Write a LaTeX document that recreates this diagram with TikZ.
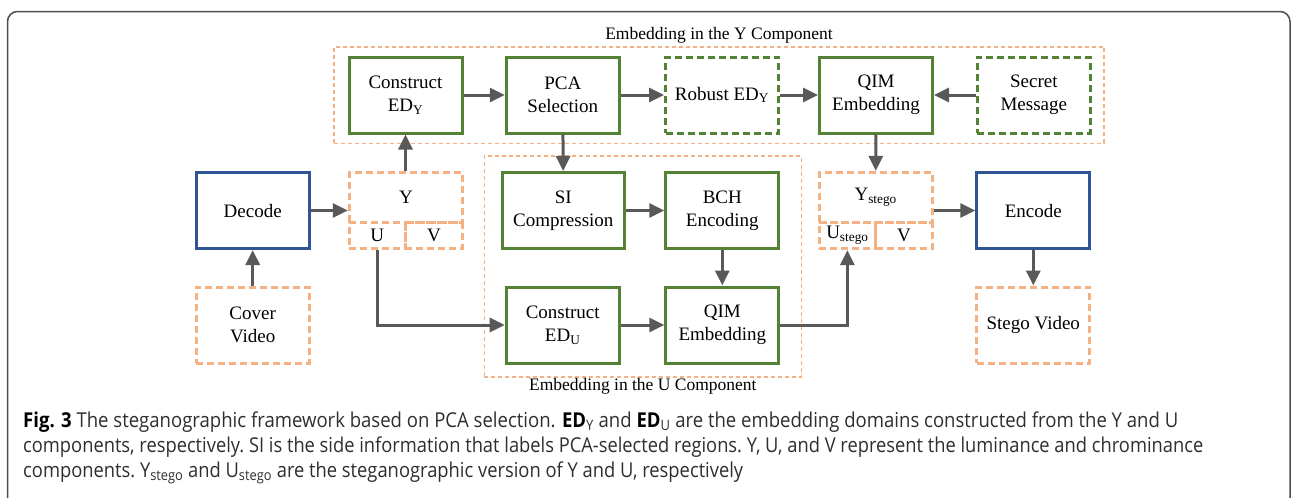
\documentclass[tikz,border=0pt]{standalone}
\usepackage{fontspec}
\setmainfont{Liberation Serif}
\newfontfamily\capfont{Open Sans}
\usetikzlibrary{arrows.meta}
\definecolor{boxgreen}{HTML}{548235}
\definecolor{boxblue}{HTML}{2F5597}
\definecolor{dashorange}{HTML}{F4B183}
\definecolor{arrowgray}{HTML}{595959}
\definecolor{framegray}{HTML}{4D4D4D}
\definecolor{captext}{HTML}{2E2E2E}
\newcommand{\capfit}[2]{\resizebox{#1}{\height}{#2}}
\tikzset{
  x=1pt, y=-1pt,
  every node/.style={font=\fontsize{19}{23}\selectfont, align=center, inner sep=0pt},
  blk/.style={draw, line width=3pt, minimum width=113pt, minimum height=76pt},
  procbox/.style={blk, draw=boxgreen},
  optbox/.style={blk, draw=boxgreen, dash pattern=on 7pt off 4pt},
  codecbox/.style={blk, draw=boxblue},
  databox/.style={blk, draw=dashorange, dash pattern=on 7pt off 4pt},
  chanbox/.style={draw=dashorange, line width=3pt, dash pattern=on 7pt off 4pt},
  region/.style={draw=dashorange, line width=1.6pt, dash pattern=on 4pt off 3pt},
  flow/.style={draw=arrowgray, line width=3pt, -{Triangle[length=15pt,width=14pt]}},
  regiontitle/.style={font=\fontsize{17.5}{21}\selectfont},
  capline/.style={anchor=base west, font=\capfont\fontsize{20.5}{25}\selectfont, text=captext, align=left}
}
\begin{document}
\begin{tikzpicture}
\clip (0,0) rectangle (1291,498);

% outer figure frame, open at the bottom
\draw[framegray, line width=1.5pt, rounded corners=10pt] (7.5,540) -- (7.5,11.5) -- (1290,11.5) -- (1290,540);

% component regions
\node[region, minimum width=770pt, minimum height=96.6pt] (yreg) at (719,95) {};
\node[region, minimum width=317pt, minimum height=220.7pt] (ureg) at (642.8,266.4) {};
\node[regiontitle] (ytitle) at (719,35) {Embedding in the Y Component};
\node[regiontitle] (utitle) at (642.8,386) {Embedding in the U Component};

% top row: Y component
\node[procbox] (cedy) at (405.5,95) {Construct\\ED\textsubscript{Y}};
\node[procbox] (pca) at (562.8,95) {PCA\\Selection};
\node[optbox] (robust) at (722,95) {Robust ED\textsubscript{Y}};
\node[procbox] (qimy) at (876,95) {QIM\\Embedding};
\node[optbox] (secret) at (1033.8,95) {Secret\\Message};

% middle row
\node[codecbox] (decode) at (252.7,210.5) {Decode};
\node[chanbox, minimum width=113.4pt, minimum height=50pt] (ych) at (406,197.3) {Y};
\node[chanbox, minimum width=56.1pt, minimum height=26.4pt] (uch) at (377.2,235.5) {U};
\node[chanbox, minimum width=57.3pt, minimum height=26.4pt] (vch) at (434,235.5) {V};
\node[procbox, minimum width=122pt] (si) at (563.3,210.5) {SI\\Compression};
\node[procbox] (bch) at (722.3,210.5) {BCH\\Encoding};
\node[chanbox, minimum width=113.3pt, minimum height=50pt] (ysch) at (875.7,197.3) {Y\textsubscript{stego}};
\node[chanbox, minimum width=56.7pt, minimum height=26.4pt] (usch) at (847.4,235.5) {U\textsubscript{stego}};
\node[chanbox, minimum width=56.7pt, minimum height=26.4pt] (vsch) at (904,235.5) {V};
\node[codecbox] (encode) at (1033.3,210.5) {Encode};

% bottom row
\node[databox] (cover) at (252.7,325) {Cover\\Video};
\node[procbox] (cedu) at (562.7,325) {Construct\\ED\textsubscript{U}};
\node[procbox] (qimu) at (722.3,325) {QIM\\Embedding};
\node[databox] (stego) at (1033.3,325) {Stego Video};

% data flow
\draw[flow] (cover) -- (decode);
\draw[flow] (decode.east) -- (decode.east -| ych.west);
\draw[flow] (ych.north -| cedy.south) -- (cedy);
\draw[flow] (cedy) -- (pca);
\draw[flow] (pca) -- (robust);
\draw[flow] (robust) -- (qimy);
\draw[flow] (secret) -- (qimy);
\draw[flow] (pca) -- (si);
\draw[flow] (si) -- (bch);
\draw[flow] (bch) -- (qimu);
\draw[flow] (uch.south) |- (cedu.west);
\draw[flow] (cedu) -- (qimu);
\draw[flow] (qimu.east) -| (usch.south);
\draw[flow] (qimy) -- (ysch);
\draw[flow] (encode.west -| ysch.east) -- (encode.west);
\draw[flow] (encode) -- (stego);

% caption
\node[capline] (cap1) at (23,427) {\capfit{1155pt}{{\color{black}\textbf{Fig. 3}} The steganographic framework based on PCA selection. {\color{black}\textbf{ED}}\textsubscript{Y} and {\color{black}\textbf{ED}}\textsubscript{U} are the embedding domains constructed from the Y and U}};
\node[capline] (cap2) at (23,452) {\capfit{1180pt}{components, respectively.\ SI is the side information that labels PCA-selected regions.\ Y, U, and V represent the luminance and chrominance}};
\node[capline] (cap3) at (23,477) {\capfit{720pt}{components.\ Y\textsubscript{stego} and U\textsubscript{stego} are the steganographic version of Y and U, respectively}};
\end{tikzpicture}
\end{document}
